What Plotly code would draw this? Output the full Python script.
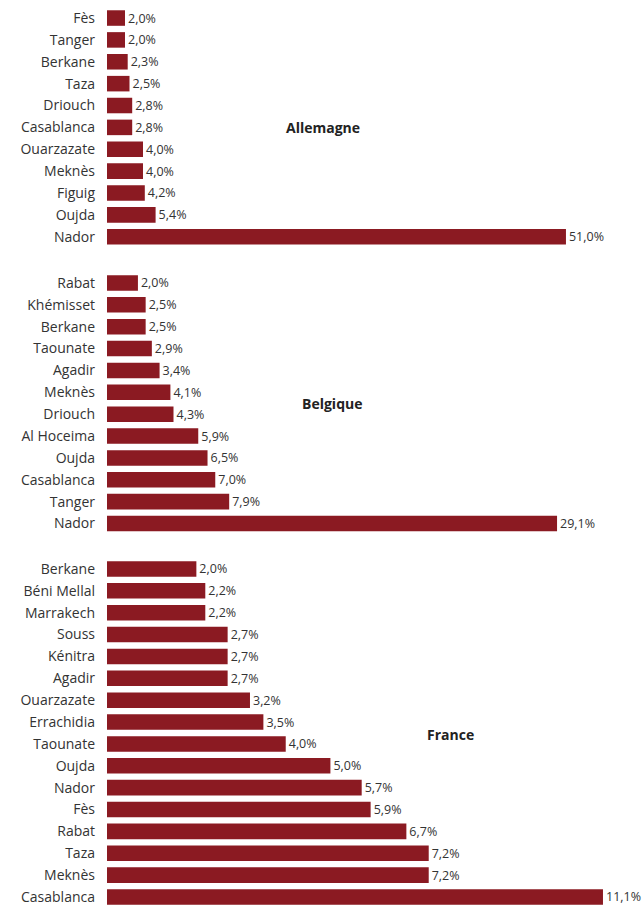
import plotly.graph_objects as go

# Share of emigrants by region of origin, per destination country (%)
allemagne_regions = ["Fès", "Tanger", "Berkane", "Taza", "Driouch", "Casablanca",
                     "Ouarzazate", "Meknès", "Figuig", "Oujda", "Nador"]
allemagne_values = [2.0, 2.0, 2.3, 2.5, 2.8, 2.8, 4.0, 4.0, 4.2, 5.4, 51.0]

belgique_regions = ["Rabat", "Khémisset", "Berkane", "Taounate", "Agadir", "Meknès",
                    "Driouch", "Al Hoceima", "Oujda", "Casablanca", "Tanger", "Nador"]
belgique_values = [2.0, 2.5, 2.5, 2.9, 3.4, 4.1, 4.3, 5.9, 6.5, 7.0, 7.9, 29.1]

france_regions = ["Berkane", "Béni Mellal", "Marrakech", "Souss", "Kénitra", "Agadir",
                  "Ouarzazate", "Errachidia", "Taounate", "Oujda", "Nador", "Fès",
                  "Rabat", "Taza", "Meknès", "Casablanca"]
france_values = [2.0, 2.2, 2.2, 2.7, 2.7, 2.7, 3.2, 3.5, 4.0, 5.0, 5.7, 5.9,
                 6.7, 7.2, 7.2, 11.1]

BAR = "#8B1A22"
TEXT = "#333333"
FONT = "Open Sans"

W, H = 642, 907
ML, MR = 107, 35
fig = go.Figure()

# (regions, values, axis suffix, x-range max, pixel top/bottom of panel)
panels = [
    (allemagne_regions, allemagne_values, "", 55.56, (7.1, 248.0)),
    (belgique_regions, belgique_values, "2", 32.33, (272.0, 534.4)),
    (france_regions, france_values, "3", 11.19, (558.0, 907.0)),
]

ROW = 21.87  # pixels per category row

for regions, values, sfx, xmax, (ptop, pbot) in panels:
    fig.add_trace(go.Bar(
        x=values, y=regions, orientation="h",
        marker=dict(color=BAR, line=dict(width=0)),
        width=0.71,
        texttemplate="%{x:.1f}%", textposition="outside",
        textfont=dict(family=FONT, size=12.5, color=TEXT),
        cliponaxis=False, constraintext="none",
        xaxis="x" + sfx, yaxis="y" + sfx,
        hoverinfo="skip", showlegend=False,
    ))
    ymax = -0.5 + (pbot - ptop) / ROW
    fig.update_layout({
        "xaxis" + sfx: dict(range=[0, xmax], domain=[0, 1], visible=False,
                            anchor="y" + sfx, fixedrange=True),
        "yaxis" + sfx: dict(range=[ymax, -0.5], domain=[1 - pbot / H, 1 - ptop / H],
                            anchor="x" + sfx, showgrid=False, zeroline=False,
                            showline=False, ticks="", ticklabelstandoff=11,
                            tickfont=dict(family=FONT, size=14, color=TEXT),
                            type="category"),
    })

# Country headings
title_pos = [("Allemagne", 323, 127), ("Belgique", 332, 404), ("France", 450, 734)]
for name, px, py in title_pos:
    fig.add_annotation(
        text="<b>%s</b>" % name, xref="paper", yref="paper",
        x=(px - ML) / (W - ML - MR), y=1 - py / H,
        xanchor="center", yanchor="middle", showarrow=False,
        font=dict(family=FONT, size=14, color="#222222"),
    )

fig.update_layout(
    width=W, height=H, autosize=False,
    margin=dict(l=ML, r=MR, t=0, b=0),
    paper_bgcolor="white", plot_bgcolor="white",
    separators=", ",
)

fig.write_html("out.html")
